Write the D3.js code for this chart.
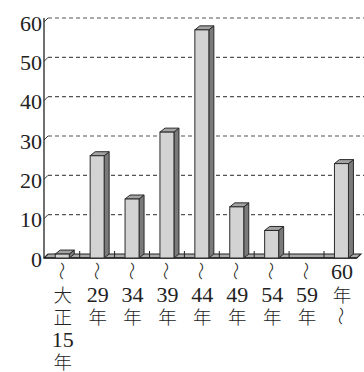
<!DOCTYPE html>
<html>
<head>
<meta charset="utf-8">
<script src="https://cdn.jsdelivr.net/npm/d3@7"></script>
<style>
  html, body { margin: 0; padding: 0; background: #fff; }
  svg { display: block; }
  .num { font-family: "Liberation Serif", "DejaVu Serif", serif; font-size: 22px; fill: #222; }
  .kanji { font-family: "Noto Sans CJK JP", sans-serif; font-size: 18.5px; fill: #222; font-weight: 300; }
</style>
</head>
<body>
<script>
// Survey periods (wave dash = "from / until")
const categories = ["大正15年", "29年", "34年", "39年", "44年", "49年", "54年", "59年", "60年〜"];
const values = [1, 26, 15, 32, 58, 13, 7, 0, 24];
const tickLines = [
  ["〜", "大", "正", "15", "年"],
  ["〜", "29", "年"],
  ["〜", "34", "年"],
  ["〜", "39", "年"],
  ["〜", "44", "年"],
  ["〜", "49", "年"],
  ["〜", "54", "年"],
  ["〜", "59", "年"],
  ["60", "年", "〜"]
];
const yTicks = [0, 10, 20, 30, 40, 50, 60];

const W = 364, H = 372;
const depthX = 4, depthY = 4;      // floor / back-wall depth
const barDX = 5, barDY = 4;        // bar side depth
const axisX = 44;

const svg = d3.select("body").append("svg").attr("width", W).attr("height", H);

const y = d3.scaleLinear().domain([0, 60]).range([258, 22]);
const x = d3.scaleBand().domain(categories).range([44.8, 358.9]).padding(0);
const barW = 14;

// back-wall gridlines with connectors to the front axis
const grid = svg.append("g");
yTicks.filter(v => v > 0).forEach(v => {
  grid.append("line")
    .attr("x1", axisX + depthX).attr("x2", W)
    .attr("y1", y(v) - depthY).attr("y2", y(v) - depthY)
    .attr("stroke", "#555").attr("stroke-width", 1.1)
    .attr("stroke-dasharray", "4,3");
  grid.append("line")
    .attr("x1", axisX).attr("y1", y(v))
    .attr("x2", axisX + depthX).attr("y2", y(v) - depthY)
    .attr("stroke", "#333").attr("stroke-width", 1);
});

// floor
const fx0 = axisX, fx1 = 357, fy = y(0);
svg.append("path")
  .attr("d", `M${fx0},${fy} L${fx0 + depthX},${fy - depthY} L${fx1 + depthX},${fy - depthY} L${fx1},${fy} Z`)
  .attr("fill", "#ababab").attr("stroke", "#222").attr("stroke-width", 1.1);
svg.append("line")
  .attr("x1", fx0).attr("x2", fx1).attr("y1", fy).attr("y2", fy)
  .attr("stroke", "#222").attr("stroke-width", 1.6);

// category separators on the floor
categories.slice(1).forEach(c => {
  const bx = x(c);
  svg.append("line")
    .attr("x1", bx).attr("x2", bx).attr("y1", fy - 7).attr("y2", fy)
    .attr("stroke", "#222").attr("stroke-width", 1);
});

// 3D bars
const bars = svg.append("g");
categories.forEach((c, i) => {
  const v = values[i];
  if (v <= 0) return;
  const cx = x(c) + x.bandwidth() / 2;
  const x0 = cx - barW / 2, x1 = cx + barW / 2;
  const yt = y(v), yb = y(0);
  bars.append("path")
    .attr("d", `M${x1},${yt} L${x1 + barDX},${yt - barDY} L${x1 + barDX},${yb - barDY} L${x1},${yb} Z`)
    .attr("fill", "#7a7a7a").attr("stroke", "#2a2a2a").attr("stroke-width", 1);
  bars.append("path")
    .attr("d", `M${x0},${yt} L${x0 + barDX},${yt - barDY} L${x1 + barDX},${yt - barDY} L${x1},${yt} Z`)
    .attr("fill", "#a3a3a3").attr("stroke", "#2a2a2a").attr("stroke-width", 1);
  bars.append("rect")
    .attr("x", x0).attr("y", yt).attr("width", barW).attr("height", yb - yt)
    .attr("fill", "#d3d3d3").attr("stroke", "#2a2a2a").attr("stroke-width", 1);
});

// vertical axis
svg.append("line")
  .attr("x1", axisX).attr("x2", axisX).attr("y1", 18).attr("y2", y(0))
  .attr("stroke", "#222").attr("stroke-width", 1.3);

// y tick labels
svg.append("g").selectAll("text").data(yTicks).join("text")
  .attr("class", "num")
  .attr("x", 42).attr("y", d => y(d) + 1)
  .attr("text-anchor", "end").attr("dominant-baseline", "central")
  .text(d => d);

// vertical category labels: wave dashes rotated, the rest stacked as one text
const lab = svg.append("g");
const lineY = j => 271 + j * 22.5;
categories.forEach((c, i) => {
  const cx = x(c) + x.bandwidth() / 2 + 0.5;
  const lines = tickLines[i];
  lines.forEach((t, j) => {
    if (t !== "〜") return;
    lab.append("text").attr("class", "kanji")
      .attr("transform", `translate(${cx},${lineY(j)}) rotate(90)`)
      .attr("text-anchor", "middle").attr("dominant-baseline", "central")
      .text(t);
  });
  const stack = lab.append("text")
    .attr("text-anchor", "middle").attr("dominant-baseline", "central");
  lines.forEach((t, j) => {
    if (t === "〜") return;
    stack.append("tspan")
      .attr("class", /^\d+$/.test(t) ? "num" : "kanji")
      .attr("x", cx).attr("y", lineY(j))
      .attr("dominant-baseline", "central")
      .text(t);
  });
});
</script>
</body>
</html>
